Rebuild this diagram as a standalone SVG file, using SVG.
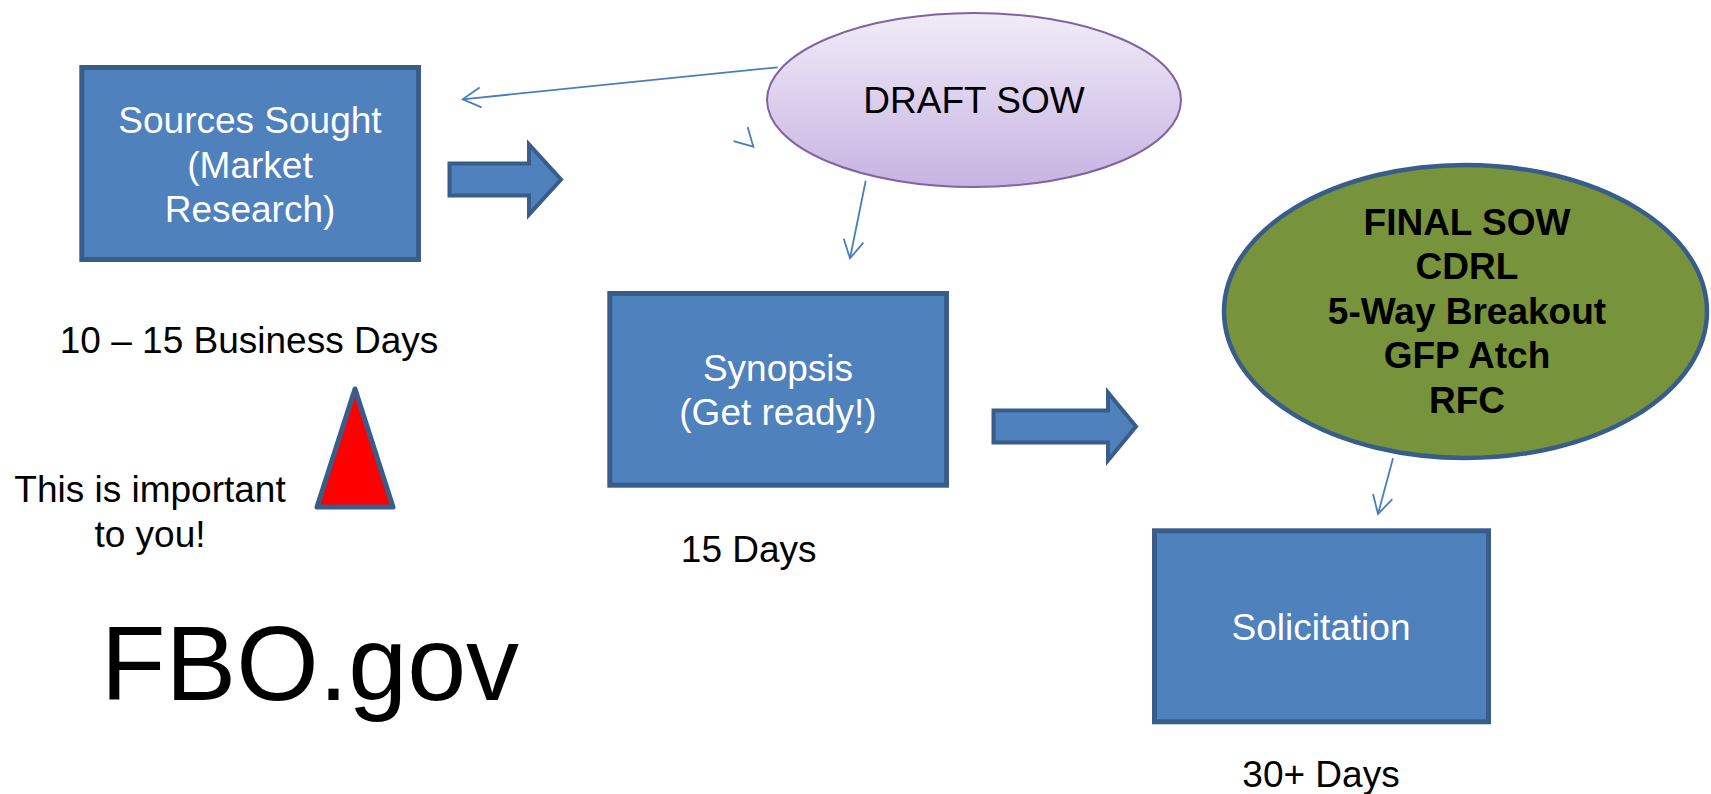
<svg xmlns="http://www.w3.org/2000/svg" width="1711" height="794" viewBox="0 0 1711 794">
  <style>
    .box { fill: #4F81BD; stroke: #385D8A; stroke-width: 5; }
    .blk { fill: #4F81BD; stroke: #385D8A; stroke-width: 4; stroke-linejoin: miter; }
    .conn { fill: none; stroke: #4A7EBB; stroke-width: 1.8; }
    .wt { font-family: "Liberation Sans", Arial, sans-serif; font-size: 37px; fill: #FFFFFF; text-anchor: middle; }
    .bk { font-family: "Liberation Sans", Arial, sans-serif; font-size: 37px; fill: #000000; text-anchor: middle; }
    .bb { font-family: "Liberation Sans", Arial, sans-serif; font-size: 37px; font-weight: bold; fill: #000000; text-anchor: middle; }
  </style>
  <defs>
    <linearGradient id="lav" x1="0" y1="0" x2="0" y2="1">
      <stop offset="0" stop-color="#F1ECF8"/>
      <stop offset="1" stop-color="#C7B3E2"/>
    </linearGradient>
    <marker id="open" markerUnits="userSpaceOnUse" viewBox="-25 -15 30 30" markerWidth="30" markerHeight="30" refX="0" refY="0" orient="auto" overflow="visible">
      <path d="M-18,-10 L0,0 L-18,10" fill="none" stroke="#4A7EBB" stroke-width="1.8"/>
    </marker>
  </defs>

  <rect width="1711" height="794" fill="#FFFFFF"/>

  <g id="connectors">
    <path class="conn" d="M777.7,67.3 L462.7,99.3" marker-end="url(#open)"/>
    <path class="conn" d="M752.4,145.8 L753.3,146.7" marker-end="url(#open)"/>
    <path class="conn" d="M865.7,180.7 L850,258.3" marker-end="url(#open)"/>
    <path class="conn" d="M1393,458.3 L1378,514" marker-end="url(#open)"/>
    <path id="arrow1" class="blk" d="M449.5,163.5 L529,163.5 L529,144.5 L561,179.5 L529,214.5 L529,195.5 L449.5,195.5 Z"/>
    <path id="arrow2" class="blk" d="M993.5,410.5 L1108,410.5 L1108,392.5 L1136,426.5 L1108,460.5 L1108,442.5 L993.5,442.5 Z"/>
  </g>

  <g id="sources-sought">
    <rect class="box" x="81.8" y="67.5" width="336.7" height="192"/>
    <text class="wt" x="250" y="133">Sources Sought</text>
    <text class="wt" x="250" y="177.5">(Market</text>
    <text class="wt" x="250" y="222">Research)</text>
  </g>

  <g id="draft-sow">
    <ellipse cx="974" cy="100" rx="207" ry="87" fill="url(#lav)" stroke="#8064A2" stroke-width="2"/>
    <text class="bk" x="974" y="113">DRAFT SOW</text>
  </g>

  <g id="synopsis">
    <rect class="box" x="609.8" y="293.5" width="336.7" height="191.7"/>
    <text class="wt" x="778" y="380.7">Synopsis</text>
    <text class="wt" x="778" y="424.7">(Get ready!)</text>
  </g>

  <g id="final-sow">
    <ellipse cx="1465.5" cy="311.5" rx="241.5" ry="146.5" fill="#77933C" stroke="#385D8A" stroke-width="4.5"/>
    <text class="bb" x="1467" y="234.5">FINAL SOW</text>
    <text class="bb" x="1467" y="279">CDRL</text>
    <text class="bb" x="1467" y="323.5">5-Way Breakout</text>
    <text class="bb" x="1467" y="368">GFP Atch</text>
    <text class="bb" x="1467" y="412.5">RFC</text>
  </g>

  <g id="solicitation">
    <rect class="box" x="1154.5" y="530.8" width="334" height="191"/>
    <text class="wt" x="1321" y="640">Solicitation</text>
  </g>

  <g id="warning">
    <path d="M355,389 L393,507 L317,507 Z" fill="#FF0000" stroke="#385D8A" stroke-width="5" stroke-linejoin="round"/>
  </g>

  <g id="labels">
    <text class="bk" x="249" y="353.3">10 – 15 Business Days</text>
    <text class="bk" x="150" y="501.7">This is important</text>
    <text class="bk" x="150" y="547">to you!</text>
    <text class="bk" x="748.7" y="561.7">15 Days</text>
    <text class="bk" x="1321" y="786.7">30+ Days</text>
    <text x="310" y="700" font-family="&quot;Liberation Sans&quot;, Arial, sans-serif" font-size="106" fill="#000000" text-anchor="middle">FBO.gov</text>
  </g>
</svg>
